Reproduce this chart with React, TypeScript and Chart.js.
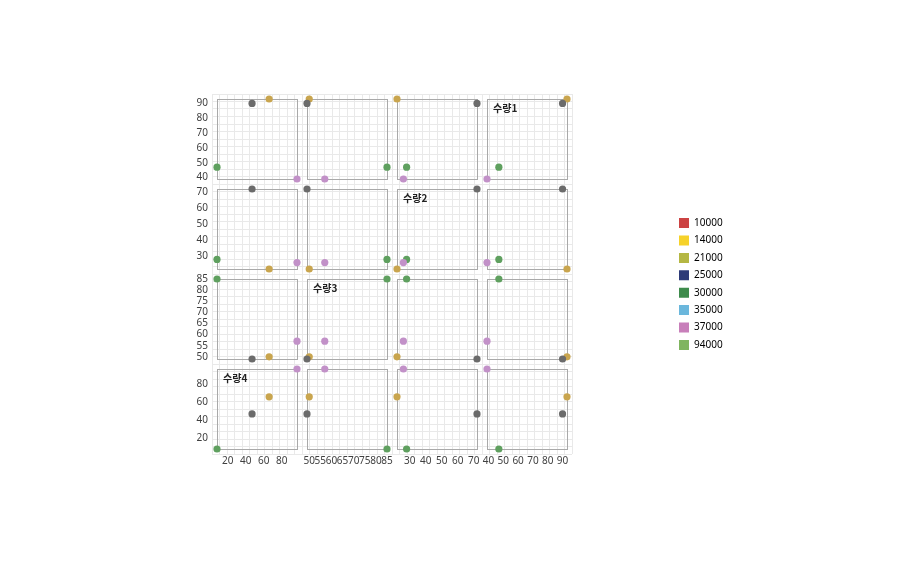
import { useEffect, useRef } from 'react';
import { Chart, registerables } from 'chart.js';

Chart.register(...registerables);

// ---- data ----
const variableNames = ['수량1', '수량2', '수량3', '수량4'];
// one value per point: [gold, gray, green, purple]
const quantity1 = [93, 90, 47, 39];
const quantity2 = [22, 72, 28, 26];
const quantity3 = [50, 49, 85, 57];
const quantity4 = [66, 47, 8, 97];
const pointColors = ['#c9a54e', '#6b6b6b', '#5fa05f', '#c291c8'];
const labelSteps = [10, 10, 5, 20];
const legendLabels = ['10000', '14000', '21000', '25000', '30000', '35000', '37000', '94000'];
const legendColors = ['#cc4343', '#f6d22a', '#b5b743', '#2e3b78', '#3e8b4c', '#6bb7dc', '#c87fba', '#80b560'];
const rowVars = [0, 1, 2, 3];
const colVars = [3, 2, 1, 0];
const gridCount = 48;

const variables = [quantity1, quantity2, quantity3, quantity4];
const CELL_PAD = 5 / 80;
const FONT = "'Noto Sans', 'Noto Sans CJK KR', sans-serif";

function rangeOf(v: number) {
  const arr = variables[v];
  const lo = Math.min(...arr);
  const hi = Math.max(...arr);
  return { lo, hi };
}

function labelTicks(v: number) {
  const { lo, hi } = rangeOf(v);
  const step = labelSteps[v];
  const out: { value: number }[] = [];
  for (let t = Math.ceil(lo / step) * step; t <= hi + 1e-9; t += step) out.push({ value: t });
  return out;
}

function cellScale(v: number, kind: 'x' | 'y', weight: number) {
  const { lo, hi } = rangeOf(v);
  const pad = (hi - lo) * CELL_PAD;
  return {
    type: 'linear',
    position: kind === 'x' ? 'bottom' : 'left',
    stack: kind === 'x' ? 'xs' : 'ys',
    stackWeight: 1,
    weight,
    min: lo - pad,
    max: hi + pad,
    grid: { display: false, drawTicks: false },
    border: { display: false },
    ticks: {
      autoSkip: false,
      maxRotation: 0,
      minRotation: 0,
      padding: kind === 'x' ? 1 : 4,
      color: '#404040',
      font: { family: FONT, size: 10 },
      callback: (val: number) => String(val),
    },
    afterBuildTicks: (s: any) => {
      s.ticks = labelTicks(v);
    },
    afterFit: (s: any) => {
      if (kind === 'x') s.height = 20;
      else s.width = 30;
    },
  };
}

const boxPlugin = {
  id: 'splomBoxes',
  beforeDatasetsDraw(chart: any) {
    const ctx = chart.ctx;
    ctx.save();
    rowVars.forEach((rv, r) => {
      colVars.forEach((cv, c) => {
        const xs = chart.scales['x' + c];
        const ys = chart.scales['y' + r];
        const xr = rangeOf(cv);
        const yr = rangeOf(rv);
        const x0 = Math.round(xs.getPixelForValue(xr.lo)) + 0.5;
        const x1 = Math.round(xs.getPixelForValue(xr.hi)) + 0.5;
        const y0 = Math.round(ys.getPixelForValue(yr.hi)) + 0.5;
        const y1 = Math.round(ys.getPixelForValue(yr.lo)) + 0.5;
        ctx.strokeStyle = '#a9a9a9';
        ctx.lineWidth = 1;
        ctx.strokeRect(x0, y0, x1 - x0, y1 - y0);
        if (rv === cv) {
          ctx.fillStyle = '#222';
          ctx.font = "bold 10px 'Noto Sans CJK KR', 'Noto Sans', sans-serif";
          ctx.textAlign = 'left';
          ctx.textBaseline = 'middle';
          ctx.fillText(variableNames[rv], x0 + 5.5, y0 + 9);
        }
      });
    });
    ctx.restore();
  },
};

export default function App() {
  const ref = useRef<HTMLCanvasElement | null>(null);

  useEffect(() => {
    if (!ref.current) return;

    const datasets: any[] = [];
    rowVars.forEach((rv, r) => {
      colVars.forEach((cv, c) => {
        datasets.push({
          label: variableNames[rv] + ' / ' + variableNames[cv],
          xAxisID: 'x' + c,
          yAxisID: 'y' + r,
          data: variables[rv].map((_, k) => ({ x: variables[cv][k], y: variables[rv][k] })),
          pointBackgroundColor: pointColors,
          pointBorderWidth: 0,
          pointRadius: 3.6,
          showLine: false,
          clip: false,
        });
      });
    });

    const scales: any = {
      gx: {
        type: 'linear',
        position: 'top',
        min: 0,
        max: gridCount,
        grid: { color: '#e9e9e9', drawTicks: false },
        border: { display: false },
        ticks: { display: false },
        afterBuildTicks: (s: any) => {
          s.ticks = Array.from({ length: gridCount + 1 }, (_, i) => ({ value: i }));
        },
        afterFit: (s: any) => {
          s.height = 0;
        },
      },
      gy: {
        type: 'linear',
        position: 'right',
        min: 0,
        max: gridCount,
        grid: { color: '#e9e9e9', drawTicks: false },
        border: { display: false },
        ticks: { display: false },
        afterBuildTicks: (s: any) => {
          s.ticks = Array.from({ length: gridCount + 1 }, (_, i) => ({ value: i }));
        },
        afterFit: (s: any) => {
          s.width = 99.6;
        },
      },
    };
    rowVars.forEach((rv, r) => {
      scales['y' + r] = cellScale(rv, 'y', 4 - r);
    });
    colVars.forEach((cv, c) => {
      scales['x' + c] = cellScale(cv, 'x', c + 1);
    });

    const chart = new Chart(ref.current, {
      type: 'scatter',
      data: { datasets },
      options: {
        responsive: false,
        animation: false,
        layout: { padding: { left: 182, top: 94, bottom: 105, right: 170.4 } },
        scales,
        plugins: {
          tooltip: { enabled: false },
          legend: {
            position: 'right',
            maxWidth: 58,
            onClick: () => {},
            labels: {
              boxWidth: 10,
              boxHeight: 10,
              padding: 7.4,
              color: '#333',
              font: { family: FONT, size: 10 },
              generateLabels: () =>
                legendLabels.map((t, i) => ({
                  text: t,
                  fillStyle: legendColors[i],
                  strokeStyle: legendColors[i],
                  lineWidth: 0,
                  hidden: false,
                  datasetIndex: i,
                })),
            },
          },
        },
      } as any,
      plugins: [boxPlugin],
    });

    return () => chart.destroy();
  }, []);

  return (
    <div style={{ position: 'absolute', left: 0, top: 0, width: 900, height: 579, background: '#fff' }}>
      <canvas ref={ref} width={900} height={579} style={{ display: 'block' }} />
    </div>
  );
}
